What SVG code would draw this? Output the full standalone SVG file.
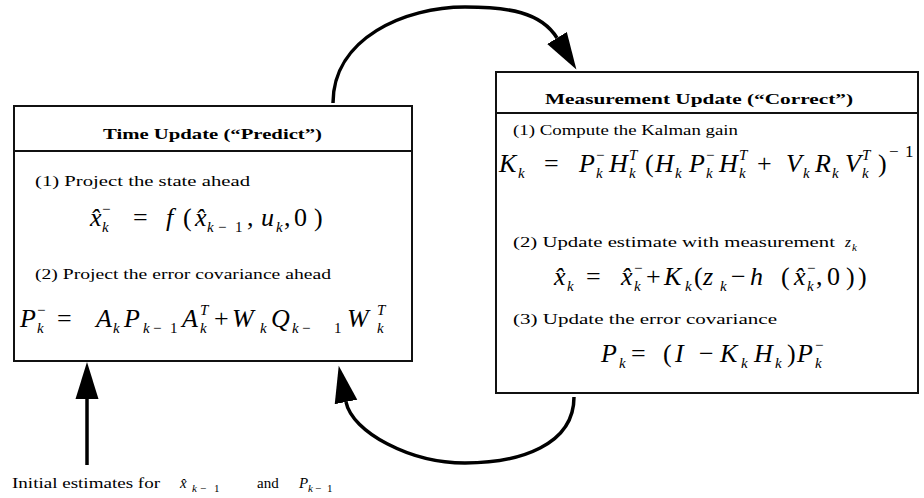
<svg xmlns="http://www.w3.org/2000/svg" width="924" height="498" viewBox="0 0 924 498">
<style>
.box{fill:#fff;stroke:#111;stroke-width:2}
.sep{stroke:#111;stroke-width:2}
.t{font-family:"Liberation Serif","Times New Roman",serif;font-size:15px;fill:#000}
.hd{font-weight:bold;font-size:15px}
.eq{font-family:"Liberation Serif","Times New Roman",serif;font-size:26px;font-style:italic;fill:#000}
.up{font-style:normal}
.s{font-size:15px}
.ti{font-style:italic}
.con{fill:none;stroke:#000;stroke-width:3.5}
</style>
<defs>
<marker id="ah" markerUnits="userSpaceOnUse" markerWidth="40" markerHeight="26" viewBox="0 0 40 26" refX="0" refY="13" orient="auto">
<path d="M0,1.5 L37,13 L0,24.5 Z" fill="#000"/>
</marker>
</defs>

<g id="time-update">
<rect class="box" x="14" y="106" width="398" height="255"/>
<line class="sep" x1="14" y1="151" x2="412" y2="151"/>
<text class="t hd" x="103" y="139" textLength="219" lengthAdjust="spacingAndGlyphs">Time Update (“Predict”)</text>
<text class="t" x="35" y="186" textLength="215" lengthAdjust="spacingAndGlyphs">(1) Project the state ahead</text>
<text class="eq"><tspan x="90" y="226">x̂</tspan><tspan class="s up" x="102" y="214">−</tspan><tspan class="s" x="102" y="232">k</tspan><tspan class="up" x="133" y="226">=</tspan><tspan x="166" y="226">f</tspan><tspan class="up" x="183" y="226">(</tspan><tspan x="195" y="226">x̂</tspan><tspan class="s" x="207" y="232">k</tspan><tspan class="s up" x="218" y="232">−</tspan><tspan class="s up" x="235" y="232">1</tspan><tspan class="up" x="247" y="226">,</tspan><tspan x="261" y="226">u</tspan><tspan class="s" x="276" y="232">k</tspan><tspan class="up" x="284" y="226">,</tspan><tspan class="up" x="294" y="226">0</tspan><tspan class="up" x="314" y="226">)</tspan></text>
<text class="t" x="35" y="279" textLength="296" lengthAdjust="spacingAndGlyphs">(2) Project the error covariance ahead</text>
<text class="eq"><tspan x="20" y="327">P</tspan><tspan class="s up" x="37" y="315">−</tspan><tspan class="s" x="37" y="333">k</tspan><tspan class="up" x="57" y="327">=</tspan><tspan x="96" y="327">A</tspan><tspan class="s" x="113" y="333">k</tspan><tspan x="124" y="327">P</tspan><tspan class="s" x="143" y="333">k</tspan><tspan class="s up" x="153" y="333">−</tspan><tspan class="s up" x="170" y="333">1</tspan><tspan x="182" y="327">A</tspan><tspan class="s" x="200" y="315">T</tspan><tspan class="s" x="200" y="333">k</tspan><tspan class="up" x="214" y="327">+</tspan><tspan x="232" y="327">W</tspan><tspan class="s" x="260" y="333">k</tspan><tspan x="271" y="327">Q</tspan><tspan class="s" x="292" y="333">k</tspan><tspan class="s up" x="302" y="333">−</tspan><tspan class="s up" x="334" y="333">1</tspan><tspan x="347" y="327">W</tspan><tspan class="s" x="377" y="315">T</tspan><tspan class="s" x="377" y="333">k</tspan></text>
</g>

<g id="measurement-update">
<rect class="box" x="496" y="72" width="422" height="321"/>
<line class="sep" x1="496" y1="113" x2="918" y2="113"/>
<text class="t hd" x="545" y="104" textLength="308" lengthAdjust="spacingAndGlyphs">Measurement Update (“Correct”)</text>
<text class="t" x="513" y="135" textLength="225" lengthAdjust="spacingAndGlyphs">(1) Compute the Kalman gain</text>
<text class="eq"><tspan x="499" y="172">K</tspan><tspan class="s" x="518" y="178">k</tspan><tspan class="up" x="544" y="172">=</tspan><tspan x="579" y="172">P</tspan><tspan class="s up" x="596" y="160">−</tspan><tspan class="s" x="596" y="178">k</tspan><tspan x="609" y="172">H</tspan><tspan class="s" x="629" y="160">T</tspan><tspan class="s" x="629" y="178">k</tspan><tspan class="up" x="645" y="172">(</tspan><tspan x="655" y="172">H</tspan><tspan class="s" x="675" y="178">k</tspan><tspan x="689" y="172">P</tspan><tspan class="s up" x="706" y="160">−</tspan><tspan class="s" x="706" y="178">k</tspan><tspan x="719" y="172">H</tspan><tspan class="s" x="739" y="160">T</tspan><tspan class="s" x="739" y="178">k</tspan><tspan class="up" x="757" y="172">+</tspan><tspan x="786" y="172">V</tspan><tspan class="s" x="803" y="178">k</tspan><tspan x="815" y="172">R</tspan><tspan class="s" x="832" y="178">k</tspan><tspan x="845" y="172">V</tspan><tspan class="s" x="862" y="160">T</tspan><tspan class="s" x="862" y="178">k</tspan><tspan class="up" x="878" y="172">)</tspan><tspan class="up" x="889" y="157" font-size="17">−</tspan><tspan class="up" x="905" y="157" font-size="17">1</tspan></text>
<text class="t" x="513" y="247" textLength="322" lengthAdjust="spacingAndGlyphs">(2) Update estimate with measurement</text>
<text class="t"><tspan class="ti" x="845" y="247">z</tspan><tspan class="ti" x="852" y="251" font-size="11">k</tspan></text>
<text class="eq"><tspan x="554" y="285">x̂</tspan><tspan class="s" x="567" y="291">k</tspan><tspan class="up" x="586" y="285">=</tspan><tspan x="621" y="285">x̂</tspan><tspan class="s up" x="634" y="273">−</tspan><tspan class="s" x="634" y="291">k</tspan><tspan class="up" x="646" y="285">+</tspan><tspan x="664" y="285">K</tspan><tspan class="s" x="685" y="291">k</tspan><tspan class="up" x="694" y="285">(</tspan><tspan x="703" y="285">z</tspan><tspan class="s" x="720" y="291">k</tspan><tspan class="up" x="731" y="285">−</tspan><tspan x="750" y="285">h</tspan><tspan class="up" x="781" y="285">(</tspan><tspan x="794" y="285">x̂</tspan><tspan class="s up" x="807" y="273">−</tspan><tspan class="s" x="807" y="291">k</tspan><tspan class="up" x="816" y="285">,</tspan><tspan class="up" x="827" y="285">0</tspan><tspan class="up" x="846" y="285">)</tspan><tspan class="up" x="858" y="285">)</tspan></text>
<text class="t" x="513" y="324" textLength="264" lengthAdjust="spacingAndGlyphs">(3) Update the error covariance</text>
<text class="eq"><tspan x="601" y="362">P</tspan><tspan class="s" x="619" y="368">k</tspan><tspan class="up" x="631" y="362">=</tspan><tspan class="up" x="663" y="362">(</tspan><tspan x="675" y="362">I</tspan><tspan class="up" x="699" y="362">−</tspan><tspan x="720" y="362">K</tspan><tspan class="s" x="741" y="368">k</tspan><tspan x="754" y="362">H</tspan><tspan class="s" x="775" y="368">k</tspan><tspan class="up" x="787" y="362">)</tspan><tspan x="797" y="362">P</tspan><tspan class="s up" x="815" y="350">−</tspan><tspan class="s" x="815" y="368">k</tspan></text>
</g>

<g id="initial-estimates">
<text class="t" font-size="13"><tspan x="12" y="488" textLength="148" lengthAdjust="spacingAndGlyphs">Initial estimates for</tspan><tspan class="ti" x="180" y="488">x̂</tspan><tspan class="ti" x="192" y="492" font-size="11">k</tspan><tspan x="200" y="492" font-size="11">−</tspan><tspan x="214" y="492" font-size="11">1</tspan><tspan x="257" y="488">and</tspan><tspan class="ti" x="299" y="488">P</tspan><tspan class="ti" x="308" y="492" font-size="11">k</tspan><tspan x="315" y="492" font-size="11">−</tspan><tspan x="327" y="492" font-size="11">1</tspan></text>
</g>

<g id="connectors">
<path class="con" d="M333,103 C333,38 405,7 465,7 C508,7 541,12 557,38" marker-end="url(#ah)"/>
<path class="con" d="M574,397 C574,445 520,463 465,463 C410,463 352,432 346,402" marker-end="url(#ah)"/>
<path class="con" d="M87,465 L87,399" marker-end="url(#ah)"/>
</g>
</svg>
